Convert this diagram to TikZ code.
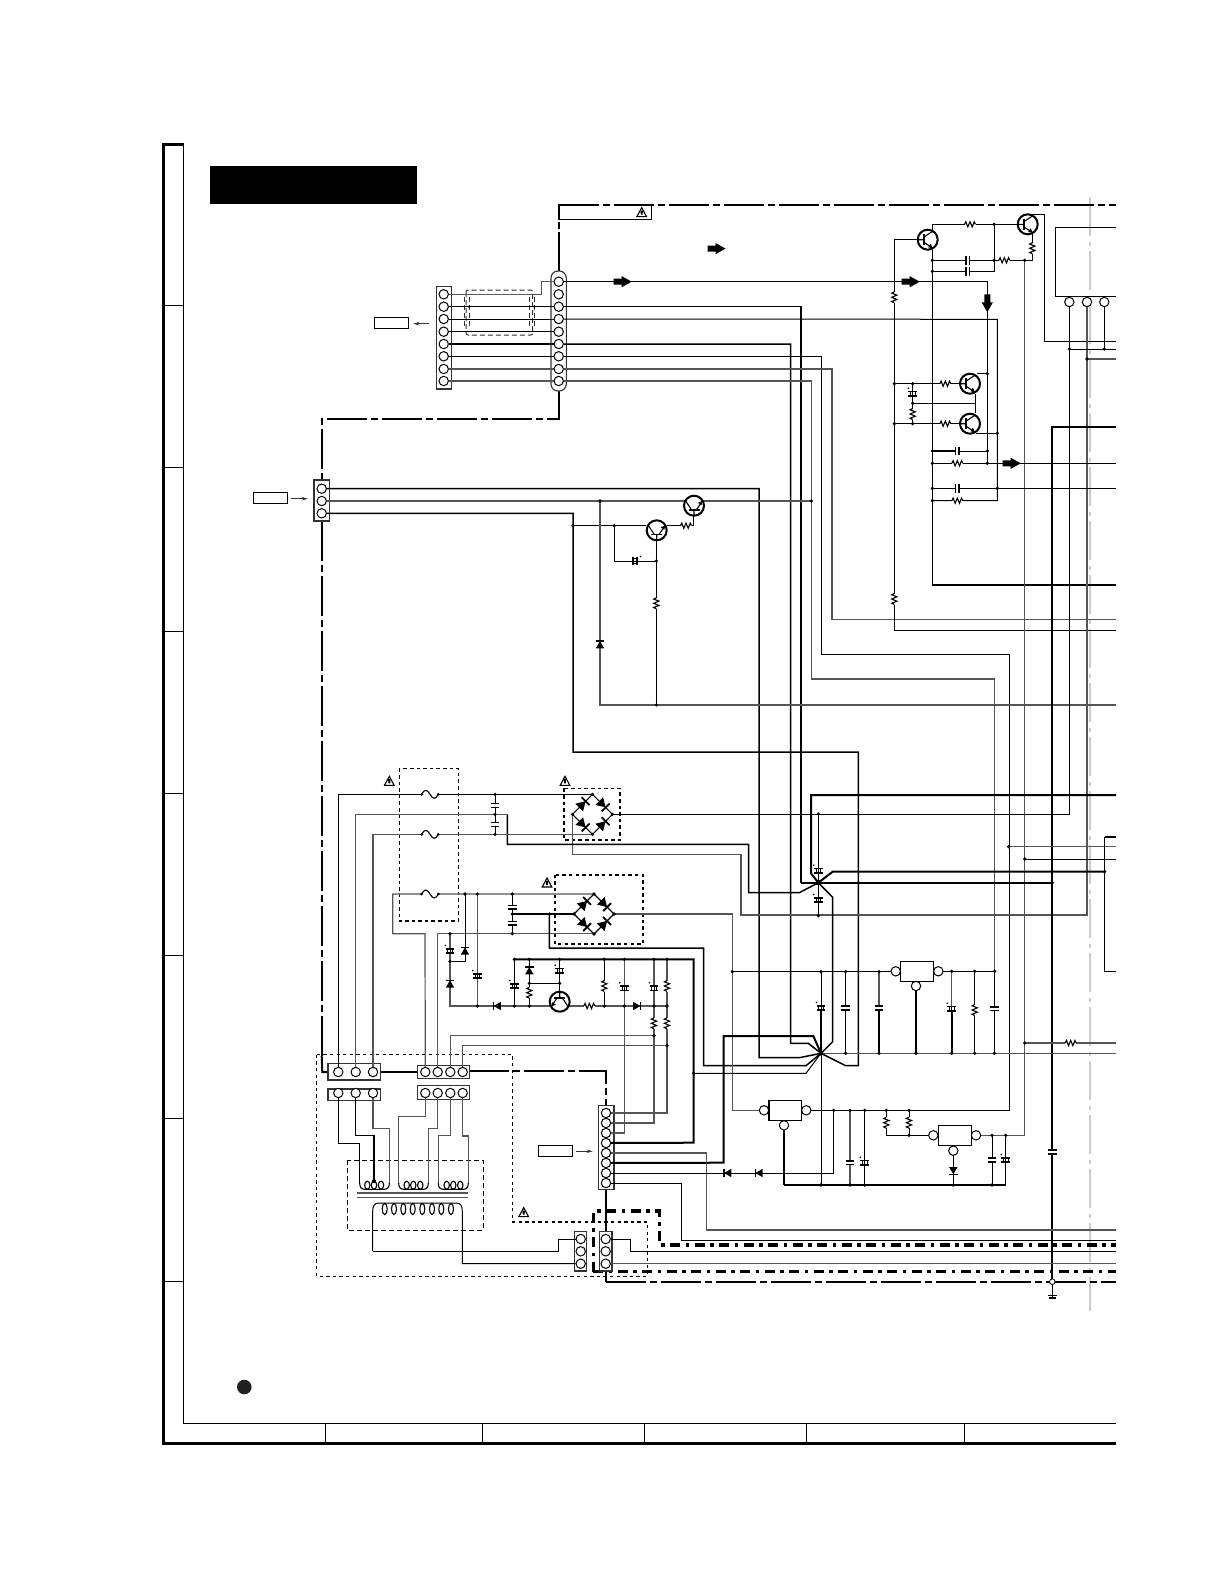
\documentclass[tikz,border=0pt]{standalone}
\usetikzlibrary{arrows.meta}
\definecolor{gw}{HTML}{555555}
\tikzset{
 wire/.style={line width=1pt,black},
 gwire/.style={line width=1.2pt,gw},
 mwire/.style={line width=1.5pt,black},
 bwire/.style={line width=2pt,black},
 dd/.style={line width=2pt,black,dash pattern=on 40pt off 4pt on 7pt off 4pt},
 ddt/.style={line width=1.7pt,black,dash pattern=on 40pt off 4pt on 7pt off 4pt},
 ddb/.style={line width=3.3pt,black,dash pattern=on 10pt off 5.5pt on 3.5pt off 5.5pt},
 fine/.style={line width=1.4pt,black,dash pattern=on 3.3pt off 3.3pt},
 finer/.style={line width=1.1pt,black,dash pattern=on 3.6pt off 3pt},
 fineb/.style={line width=1.7pt,black,dash pattern=on 3.3pt off 3.3pt},
 symline/.style={line width=1.1pt,black,line join=miter},
 pin/.style={circle,draw=black,fill=white,line width=1pt,inner sep=0pt,minimum size=9.4pt},
 conbox/.style={draw=black!80,line width=1.1pt,fill=white},
 tag/.style={draw=black,line width=1pt,fill=white,inner sep=0pt},
 tinyarrow/.style={line width=.8pt,black!80,-{Stealth[length=6pt,width=3.5pt]}},
}
\newcommand{\Nd}[2]{\fill[black] (#1,#2) circle (1.8pt);}
\newcommand{\symR}[3]{\begin{scope}[shift={(#1,#2)},rotate=#3]\fill[white](-5.5,-1.5)rectangle(5.5,1.5);\draw[symline](-5.5,0)--(-4.2,-2.6)--(-2.2,2.6)--(0,-2.6)--(2.2,2.6)--(4.2,-2.6)--(5.5,0);\end{scope}}
\newcommand{\symC}[3]{\begin{scope}[shift={(#1,#2)},rotate=#3]\fill[white](-1.2,-5)rectangle(1.2,5);\draw[line width=1.7pt](-1.9,-4.4)--(-1.9,4.4)(1.9,-4.4)--(1.9,4.4);\end{scope}}
\newcommand{\symE}[3]{\begin{scope}[shift={(#1,#2)},rotate=#3]\fill[white](-2,-4.5)rectangle(2,4.5);\draw[line width=1.5pt](-2.2,-4.4)--(-2.2,4.4)(2.2,-4.4)--(2.2,4.4);\draw[line width=.8pt](-2.2,-2.2)--(2.2,-2.2)(-2.2,0)--(2.2,0)(-2.2,2.2)--(2.2,2.2);\fill(5.5,-4.5)circle(.9pt);\end{scope}}
\newcommand{\Dio}[3]{\begin{scope}[shift={(#1,#2)},rotate=#3]\fill(-3.6,-4.2)--(-3.6,4.2)--(3.6,0)--cycle;\draw[line width=1.4pt](3.7,-4.4)--(3.7,4.4);\end{scope}}
\newcommand{\DioB}[3]{\begin{scope}[shift={(#1,#2)},rotate=#3]\fill(-4.6,-5.4)--(-4.6,5.4)--(4.4,0)--cycle;\draw[line width=1.8pt](4.4,-5.6)--(4.4,5.6);\end{scope}}
\newcommand{\symQ}[3]{\begin{scope}[shift={(#1,#2)},rotate=#3]\draw[line width=2pt,fill=white](0,0)circle(10pt);\draw[line width=1.6pt](-4,-5.5)--(-4,5.5);\draw[line width=1.1pt](-10,0)--(-4,0)(-4,-2.5)--(5,-8.5)(-4,2.5)--(5,8.5);\fill(5,8.5)--(.5,7.6)--(2.9,3.9)--cycle;\end{scope}}
\newcommand{\Fz}[2]{\begin{scope}[shift={(#1,#2)}]\fill[white](-8,-1.5)rectangle(8,1.5);\draw[line width=1.1pt](-8.3,0)..controls(-5.5,-5.5)and(-2.8,-5)..(0,0)..controls(2.8,5)and(5.5,5.5)..(8.3,0);\fill(-8.3,0)circle(1.5pt)(8.3,0)circle(1.5pt);\end{scope}}
\newcommand{\Wn}[2]{\begin{scope}[shift={(#1,#2)}]\draw[line width=1.1pt,line join=miter](-4.8,4.3)--(0,-4.7)--(4.8,4.3)--cycle;\fill(-1.2,-1.8)--(1.2,-1.8)--(.9,2.4)--(-.9,2.4)--cycle;\end{scope}}
\newcommand{\BA}[3]{\begin{scope}[shift={(#1,#2)},rotate=#3]\fill(-9,-3)--(-1,-3)--(-1,-5.6)--(9,0)--(-1,5.6)--(-1,3)--(-9,3)--cycle;\end{scope}}
\newcommand{\symB}[2]{\begin{scope}[shift={(#1,#2)}]\draw[line width=1.1pt](0,-20)--(20,0)--(0,20)--(-20,0)--cycle;\DioB{-10}{-10}{45}\DioB{10}{-10}{-45}\DioB{-10}{10}{-45}\DioB{10}{10}{45}\fill(0,-20)circle(1.8pt)(20,0)circle(1.8pt)(0,20)circle(1.8pt)(-20,0)circle(1.8pt);\end{scope}}
\begin{document}
\begin{tikzpicture}[x=1pt,y=-1pt,line cap=butt]
\useasboundingbox (0,0) rectangle (1220,1584);
\fill[white] (0,0) rectangle (1220,1584);
% page frame
\draw[line width=3pt] (163.5,144.5)--(163.5,1443)--(1116,1443);
\draw[line width=2.5pt] (162,144.5)--(183.5,144.5);
\draw[line width=1pt] (183.5,144)--(183.5,1423.3)--(1116,1423.3);
\foreach \y in {305,467,631.6,793,955,1118.6,1281.3} \draw[line width=1pt] (163.5,\y)--(183.5,\y);
\foreach \x in {325.3,482.3,644.7,806.4,964} \draw[line width=1pt] (\x,1423.3)--(\x,1443);
\fill (210,166) rectangle (417,203.7);
\fill[black!87] (244.3,1387) circle (7.3pt);
% centre fold line
\draw[line width=2pt,black!20,dash pattern=on 39pt off 6pt on 4pt off 5pt] (1090,197)--(1090,1311);
% dash-dot power frames
\draw[dd] (559,204.7)--(1116,204.7);
\draw[line width=1pt] (559,219.3)--(651.5,219.3)--(651.5,204.7);
\draw[bwire] (559,204)--(559,220)(559,222)--(559,229)(559,232)--(559,271);
\draw[dd] (559,391)--(559,419)--(321.7,419)--(321.7,480);
\draw[dd] (321.7,521)--(321.7,1058);
\draw[bwire] (321.7,1056)--(322.3,1072)--(328,1072);
\draw[bwire] (380,1072)--(417.7,1072);
\draw[dd] (469.3,1070.7)--(606,1070.7)--(606,1105.3);
\draw[bwire] (606,1189.7)--(606,1231.3);
\draw[bwire] (606,1271)--(606,1281.7);
\draw[ddt] (606,1281.7)--(1116,1281.7);
\draw[ddb] (593.3,1271.7)--(593.3,1211)--(659.3,1211)--(659.3,1245)--(1116,1245);
\draw[ddb] (593.3,1271.7)--(1116,1271.7);
% dashed screens
\draw[fine] (316.7,1054.3)--(512.7,1054.3)--(512.7,1222)--(647.7,1222)--(647.7,1276.3)--(316.7,1276.3)--cycle;
\draw[finer] (399.3,768.3) rectangle (458.3,921);
\draw[finer] (564,788.3) rectangle (620,840);
\draw[fineb] (554.7,874.7) rectangle (642.7,944);
\draw[line width=1pt,dash pattern=on 5pt off 3pt] (347.3,1160.3) rectangle (483.3,1230.3);
\draw[line width=1pt,black!80,dash pattern=on 5pt off 3pt,rounded corners=2pt] (466,290) rectangle (532.7,335);
\draw[line width=.9pt,black!80,dash pattern=on 5pt off 3pt] (464,297)--(464,328)(469,297)--(469,328)(529.7,297)--(529.7,328)(534.3,297)--(534.3,328);
% connector bodies and pins
\draw[conbox] (436.3,286.7) rectangle (451.3,389);
\draw[conbox,rounded corners=7pt] (551,271) rectangle (566.3,391);
\draw[conbox] (314,480) rectangle (329.7,521);
\draw[conbox] (328,1063.3) rectangle (380.3,1080);
\draw[conbox] (328,1089) rectangle (380.3,1100.7);
\draw[conbox] (417.7,1065.3) rectangle (469.3,1078.7);
\draw[conbox] (417.7,1085.7) rectangle (469.3,1099.3);
\draw[conbox] (598.7,1105.3) rectangle (614,1189.7);
\draw[conbox] (574.3,1231.3) rectangle (586.3,1271);
\draw[conbox] (599.3,1231.3) rectangle (612,1271);
\foreach \n/\y in {1/294.3,2/306.7,3/319,4/331.7,5/344,6/356.3,7/369,8/381} \node[pin] (a\n) at (443.7,\y) {};
\foreach \n/\y in {1/281.7,2/294.3,3/306.7,4/319,5/331.7,6/344,7/356.3,8/369,9/381} \node[pin] (b\n) at (558.7,\y) {};
\foreach \n/\y in {1/488.7,2/501,3/513.3} \node[pin] (c\n) at (321.7,\y) {};
\foreach \n/\x in {1/338.3,2/355.7,3/373} {\node[pin] (d\n) at (\x,1072) {}; \node[pin] (e\n) at (\x,1093) {};}
\foreach \n/\x in {1/425.3,2/437.7,3/450.3,4/462.7} {\node[pin] (f\n) at (\x,1072) {}; \node[pin] (g\n) at (\x,1093) {};}
\foreach \n/\y in {1/1113,2/1123,3/1133,4/1143,5/1153,6/1163,7/1173,8/1183} \node[pin] (h\n) at (606,\y) {};
\foreach \n/\y in {1/1239,2/1251.3,3/1263.7} {\node[pin] (k\n) at (580.7,\y) {}; \node[pin] (m\n) at (605.7,\y) {};}
\node[pin] (u1) at (1069.3,302) {};
\node[pin] (u2) at (1087,302) {};
\node[pin] (u3) at (1104.3,302) {};
% tags
\node[tag,minimum width=34.4pt,minimum height=11pt] (tagA) at (391.5,322.8) {};
\node[tag,minimum width=34.4pt,minimum height=11.4pt] (tagC) at (270.5,498) {};
\node[tag,minimum width=34.4pt,minimum height=11.4pt] (tagH) at (555.5,1151) {};
\coordinate (arA) at (429,323.7); \coordinate (arAe) at (413.3,323.7);
\coordinate (arC) at (291,498.7); \coordinate (arCe) at (307.7,498.7);
\coordinate (arH) at (576,1151.3); \coordinate (arHe) at (592.7,1151.3);
\draw[tinyarrow] (arA)--(arAe); \draw[tinyarrow] (arC)--(arCe); \draw[tinyarrow] (arH)--(arHe);
% harness between A and B
\draw[gwire] (a1)--(541.7,294.3)--(541.7,281.7)--(b1);
\draw[mwire] (a2)--(b3);
\draw[wire] (a3)--(b4);
\draw[wire] (a4)--(b5);
\draw[mwire] (a5)--(b6);
\draw[wire] (a6)--(b7);
\draw[gwire] (a7)--(b8);
\draw[gwire] (a8)--(b9);
\fill (469,306.7) circle (1.3pt) (534.3,306.7) circle (1.3pt);
% wires out of B
\draw[wire] (b1)--(987.3,281.7)--(987.3,463.3);
\draw[mwire] (b3)--(801,306.7)--(801,882.7);
\draw[wire] (b4)--(997.3,319.3)--(997.3,500.7)--(932.3,500.7);
\draw[mwire] (b6)--(790.7,344)--(790.7,1043.3)--(808.3,1043.3)--(821,1053.3);
\draw[wire] (b7)--(821.3,356.3)--(821.3,654)--(1009,654)--(1009,1110.3)--(811,1110.3);
\draw[gwire] (b8)--(832,369)--(832,619.5)--(1116,619.5);
\draw[gwire] (b9)--(811.3,381)--(811.3,679)--(994.7,679)--(994.7,1053.3);
% wires out of C
\draw[mwire] (c1)--(759,488.7)--(759,1057.7)--(799.3,1057.7)--(821,1053.3);
\draw[gwire] (c2)--(811.3,501);
\draw[mwire] (c3)--(573,513.3)--(573,752)--(858.3,752)--(858.3,1065.7)--(845.7,1065.7)--(821,1053.3);
\draw[wire] (573,525.7)--(646,525.7);
\draw[wire] (614.3,525.7)--(614.3,561)--(656.3,561);
\draw[gwire] (600,501)--(600,705)--(1116,705);
\draw[wire] (656.3,540)--(656.3,705);
\draw[wire] (666.7,525.7)--(693.7,525.7)--(693.7,515.7);
% upper right
\draw[wire] (894.3,239.7)--(917.7,239.7);
\draw[wire] (894.3,239.7)--(894.3,630)--(1116,630);
\draw[mwire] (932.3,250)--(932.3,585)--(1116,585);
\draw[wire] (932.3,230)--(932.3,224.3)--(1017.7,224.3);
\draw[wire] (994,224.3)--(994,271.3)--(932.3,271.3);
\draw[wire] (932.3,260.3)--(1032.3,260.3)--(1032.3,234);
\draw[wire] (1032.3,214.3)--(1044.3,214.3)--(1044.3,341.7)--(1116,341.7);
\draw[gwire] (1024.7,260.3)--(1024.7,1135.3)--(980,1135.3);
\draw[wire] (1116,227.3)--(1055.7,227.3)--(1055.7,296.7)--(1116,296.7);
\draw[wire] (u1)--(1069.3,814.3)--(612.3,814.3);
\draw[gwire] (u2)--(1087,915)--(741,915)--(741,854.3)--(572.7,854.3)--(572.7,814.3);
\draw[wire] (u3)--(1104.3,349);
\draw[wire] (1069.3,349)--(1116,349);
\draw[gwire] (1087,359)--(1116,359);
\draw[wire] (894.3,383.7)--(960,383.7);
\draw[wire] (894.3,423.7)--(960,423.7);
\draw[wire] (912.7,383.7)--(912.7,423.7);
\draw[mwire] (912.7,403.3)--(975,403.3);
\draw[wire] (977,373.7)--(987.3,373.7);
\draw[wire] (976,433.3)--(997.3,433.3);
\draw[wire] (975,394)--(975,413);
\draw[mwire] (932.3,451)--(955,451);
\draw[wire] (955,451)--(987.3,451);
\draw[wire] (932.3,463.3)--(1116,463.3);
\draw[wire] (932.3,488.3)--(1116,488.3);
\draw[mwire] (1116,427)--(1052.3,427);
\draw[bwire] (1052.3,426)--(1052.3,1281.7);
\draw[wire] (1052.3,1281.7)--(1052.3,1297);
\draw[bwire] (1116,795)--(811,795)--(811,873.3)--(818.3,882.7);
% upper junction
\draw[bwire] (818.3,882.7)--(832.7,871.7)--(1104.7,871.7);
\draw[bwire] (801,882.7)--(1052.3,882.7);
\draw[mwire] (507.3,814.3)--(507.3,844.3)--(748.7,844.3)--(748.7,892.7)--(799.3,892.7)--(818.3,882.7);
\draw[wire] (818.3,814)--(818.3,915.7);
\draw[mwire] (818.3,882.7)--(832.7,897.3)--(832.7,1041.7)--(821,1053.3);
\draw[gwire] (1008.7,846.7)--(1116,846.7);
\draw[wire] (1024.7,859)--(1116,859);
\draw[wire] (1116,837)--(1104.7,837)--(1104.7,971.3)--(1116,971.3);
\draw[line width=1.7pt] (1116,837)--(1104.7,837);
% AC input side
\draw[wire] (d1)--(338.3,794.3)--(564,794.3)--(592.5,794.3);
\draw[gwire] (d2)--(355.7,814.3)--(507.3,814.3);
\draw[gwire] (d3)--(373,834.3)--(592.5,834.3);
\draw[wire] (495,794.3)--(495,834.3);
\draw[gwire] (f1)--(425,933.7)--(392.7,933.7)--(392.7,894)--(594,894);
\draw[gwire] (f2)--(437.7,933.7)--(594,933.7);
\draw[wire] (465,894)--(465,961.3)--(450,961.3);
\draw[gwire] (450,933.7)--(450,1006)--(667,1006);
\draw[gwire] (477.3,894)--(477.3,1006);
\draw[wire] (512.3,894)--(512.3,933.7);
\draw[mwire] (512.3,914)--(574.3,914);
\draw[mwire] (549.3,914)--(549.3,948)--(703.7,948)--(703.7,1065.7)--(806,1065.7)--(821,1053.3);
\draw[gwire] (613.3,914)--(732.3,914)--(732.3,1110.3)--(759.3,1110.3);
\draw[bwire] (514.3,959.3)--(693.7,959.3)--(693.7,1142.7)--(h4);
\draw[wire] (693.7,1073.3)--(806,1073.3)--(821,1053.3);
\draw[bwire] (821,1053.3)--(813.3,1036)--(723.5,1036)--(723.5,1162.7)--(h6);
\draw[mwire] (514.3,959.3)--(514.3,986);
\draw[wire] (514.3,986)--(514.3,1006);
\draw[wire] (529.3,959.3)--(529.3,1006);
\draw[wire] (529.3,983.3)--(559.7,983.3);
\draw[wire] (559.7,959.3)--(559.7,991.7);
\draw[wire] (604.3,959.3)--(604.3,1006);
\draw[gwire] (624.3,959.3)--(624.3,1133)--(h3);
\draw[gwire] (654,959.3)--(654,1123)--(h2);
\draw[gwire] (667,959.3)--(667,1113)--(h1);
\draw[gwire] (f3)--(450.3,1035.7)--(654,1035.7);
\draw[gwire] (f4)--(462.7,1045.7)--(667,1045.7);
% transformer wiring
\draw[wire] (e1)--(338.3,1143.3)--(359.7,1143.3)--(359.7,1184);
\draw[mwire] (e2)--(355.7,1135.3)--(374,1135.3)--(374,1181);
\draw[gwire] (e3)--(373,1128.3)--(389.3,1128.3)--(389.3,1184);
\draw[gwire] (g1)--(425.3,1116.3)--(398.7,1116.3)--(398.7,1184);
\draw[gwire] (g2)--(437.7,1128.3)--(428.3,1128.3)--(428.3,1184);
\draw[gwire] (g3)--(450.3,1135.3)--(438.3,1135.3)--(438.3,1184);
\draw[gwire] (g4)--(462.7,1136)--(468.3,1136)--(468.3,1184);
\foreach \a/\b/\c/\d/\e in {359.7/389.3/367.3/374/381,398.7/428.3/406.7/413.3/420.3,438.3/468.3/446.7/453.3/460.3} {
 \draw[line width=1.1pt] (\a,1183)..controls(\a,1187)and(\a+1.5,1189.3)..(\a+5,1189.3)--(\b-5,1189.3)..controls(\b-1.5,1189.3)and(\b,1187)..(\b,1183);
 \foreach \q in {\c,\d,\e} \draw[line width=1.1pt] (\q,1185.2) ellipse (2.7pt and 4pt);
}
\fill (374,1181) circle (2pt);
\draw[line width=1.5pt,gw] (357.3,1193)--(468.3,1193)(357.3,1197.7)--(468.3,1197.7);
\draw[wire] (372.7,1251)--(372.7,1212)..controls(372.7,1206)and(374,1203)..(379,1203)--(456,1203)..controls(461,1203)and(462.3,1206)..(462.3,1212)--(462.3,1263.7)--(k3);
\foreach \q in {384.7,394,403.3,412.7,422.3,432,441.3,451} \draw[line width=1.1pt] (\q,1209) ellipse (2.5pt and 5.6pt);
\draw[wire] (372.7,1251)--(558.3,1251)--(558.3,1239)--(k1);
\draw[wire] (m1)--(630.7,1239)--(630.7,1251)--(1116,1251);
\draw[gwire] (m3)--(1116,1263.7);
\draw[gwire] (h5)--(706.3,1153)--(706.3,1230)--(1116,1230);
\draw[wire] (h7)--(833.7,1173)--(833.7,1110.3);
\draw[wire] (h8)--(681.7,1183)--(681.7,1240)--(1116,1240);
% regulators and output rail
\draw[wire] (732.3,971.7)--(891,971.7);
\draw[wire] (943,971.3)--(994.7,971.3);
\draw[wire] (821,971.7)--(821,1053.3);
\draw[bwire] (821,1010)--(821,1053.3);
\draw[wire] (821,1053.3)--(821,1185);
\draw[wire] (845.7,971.7)--(845.7,1053.3);
\draw[gwire] (879,971.7)--(879,1008);
\draw[bwire] (879,1008)--(879,1053.3);
\draw[bwire] (916,991)--(916,1053.3);
\draw[gwire] (951.7,971.3)--(951.7,1008);
\draw[bwire] (951.7,1008)--(951.7,1053.3);
\draw[wire] (974.7,971.3)--(974.7,1053.3);
\draw[wire] (994.7,971.3)--(994.7,1053.3);
\draw[gwire] (821,1053.3)--(1116,1053.3);
\draw[gwire] (1024.7,1043)--(1116,1043);
\draw[bwire] (784,1130)--(784,1185);
\draw[mwire] (784,1185)--(1005.7,1185);
\draw[gwire] (850,1110.3)--(850,1185);
\draw[wire] (864.7,1110.3)--(864.7,1185);
\draw[wire] (886.3,1110.3)--(886.3,1135.3)--(928.6,1135.3);
\draw[wire] (909,1110.3)--(909,1135.3);
\draw[wire] (953.3,1155.4)--(953.3,1185);
\draw[wire] (992,1135.3)--(992,1185);
\draw[wire] (1005.7,1135.3)--(1005.7,1185);
% regulator bodies
\draw[line width=1.2pt,fill=white] (900.7,961.7) rectangle (933.7,981.3);
\draw[line width=1.2pt,fill=white] (769,1100.3) rectangle (801.7,1120.3);
\draw[line width=1.2pt,fill=white] (938.3,1125.3) rectangle (971.3,1145.3);
\foreach \n/\x/\y in {pa/895.7/971.3,pb/938.3/971.3,pc/916/986,pd/764/1110.3,pe/806.3/1110.3,pf/784/1125.3,pg/933.3/1135.3,ph/976/1135.3,pi/953.3/1150.7} \node[pin] (\n) at (\x,\y) {};
% transistors
\symQ{927.7}{239.7}{0}
\symQ{1027.7}{224.3}{0}
\symQ{970}{383.7}{0}
\symQ{970}{423.7}{0}
\symQ{656.7}{530.3}{90}
\symQ{694}{505.7}{90}
\symQ{559.7}{1001.7}{-90}
% resistors
\symR{970}{224.3}{0}
\symR{1004.3}{260.3}{0}
\symR{1032.3}{248.3}{90}
\symR{894.3}{297.3}{90}
\symR{894.3}{599}{90}
\symR{945.3}{383.7}{0}
\symR{945.3}{423.7}{0}
\symR{912.7}{414}{90}
\symR{957.3}{463.3}{0}
\symR{957.3}{500.7}{0}
\symR{656.3}{603.3}{90}
\symR{686}{525.7}{0}
\symR{529.3}{992.7}{90}
\symR{589.3}{1006}{0}
\symR{604.3}{986}{90}
\symR{654}{1023.3}{90}
\symR{667}{986}{90}
\symR{667}{1023.3}{90}
\symR{974.7}{1010}{90}
\symR{1070.7}{1043}{0}
\symR{886.3}{1122.7}{90}
\symR{909}{1122.7}{90}
% capacitors
\symC{967.7}{260.3}{0}
\symC{967.7}{271.3}{0}
\symC{957.3}{451}{0}
\symC{957.3}{488.3}{0}
\symC{495}{805.5}{90}
\symC{495}{824.5}{90}
\symC{512.3}{907.3}{90}
\symC{512.3}{923.3}{90}
\symC{845.7}{1008}{90}
\symC{879}{1008}{90}
\symC{994.7}{1008.7}{90}
\symC{850}{1162.7}{90}
\symC{992}{1160}{90}
\symC{1052.3}{1152}{90}
\symE{912.7}{393.7}{90}
\symE{635}{561}{0}
\symE{818.3}{870.7}{90}
\symE{818.3}{900}{90}
\symE{450}{951}{90}
\symE{477.3}{976}{90}
\symE{514.3}{986}{90}
\symE{559.7}{970.7}{90}
\symE{624.3}{988.3}{90}
\symE{654}{988.3}{90}
\symE{821}{1008}{90}
\symE{951.7}{1008.7}{90}
\symE{864.7}{1162.7}{90}
\symE{1005.7}{1160}{90}
% diodes
\Dio{600}{644.7}{90}
\Dio{465}{951}{90}
\Dio{450}{984}{90}
\Dio{497.3}{1006}{180}
\Dio{529.3}{970.7}{90}
\Dio{636.7}{1006}{0}
\Dio{727.7}{1173}{180}
\Dio{759}{1173}{180}
\Dio{953.3}{1170.7}{-90}
\symB{592.5}{814.3}
\symB{594}{914}
% fuses
\Fz{430}{794.3}
\Fz{430}{834.3}
\Fz{430}{894}
% warning marks
\Wn{641.7}{212.3}
\Wn{389.3}{781}
\Wn{565}{781}
\Wn{547}{882.7}
\Wn{523.7}{1212.3}
% block arrows
\BA{622.7}{281.7}{0}
\BA{716.5}{248.6}{0}
\BA{910.7}{281.7}{0}
\BA{987.3}{303.3}{-90}
\BA{1011.7}{463.3}{0}
% ground
\draw[line width=1.2pt] (1047.5,1295.5)--(1057,1295.5)(1048.5,1298)--(1056,1298);
\draw[line width=.8pt,fill=white] (1052.3,1281.7) circle (2.8pt);
% junction dots
\foreach \x/\y in {994/224.3,932.3/260.3,932.3/271.3,994/260.3,1024.7/260.3,1069.3/349,1104.3/349,1087/359,894.3/383.7,912.7/383.7,894.3/423.7,912.7/423.7,912.7/403.3,987.3/373.7,997.3/433.3,932.3/451,987.3/451,932.3/463.3,987.3/463.3,932.3/488.3,997.3/488.3,932.3/500.7,811.3/501,600/501,573/525.7,614.3/525.7,656.3/561,656.3/705,495/794.3,495/814.3,495/834.3,818.3/814,818.3/915.7,1008.7/846.7,1024.7/859,1104.7/871.7,1052.3/882.7,465/894,477.3/894,512.3/894,512.3/914,512.3/933.7,549.3/914,450/933.7,450/961.3,477.3/1006,514.3/1006,529.3/1006,529.3/983.3,559.7/983.3,514.3/959.3,529.3/959.3,559.7/959.3,604.3/959.3,624.3/959.3,654/959.3,667/959.3,604.3/1006,624.3/1006,654/1006,667/1006,654/1035.7,667/1045.7,693.7/1073.3,732.3/971.7,821/971.7,845.7/971.7,879/971.7,951.7/971.3,974.7/971.3,994.7/971.3,845.7/1053.3,879/1053.3,916/1053.3,951.7/1053.3,974.7/1053.3,994.3/1053.3,1024.7/1043,833.7/1110.3,850/1110.3,864.7/1110.3,886.3/1110.3,909/1110.3,909/1135.3,992/1135.3,1005.7/1135.3,820.7/1185,850/1185,864.7/1185,953.3/1185,992/1185} \Nd{\x}{\y}
\fill (818.3,882.7) circle (2.2pt);
\fill (821,1053.3) circle (2.4pt);
\end{tikzpicture}
\end{document}
